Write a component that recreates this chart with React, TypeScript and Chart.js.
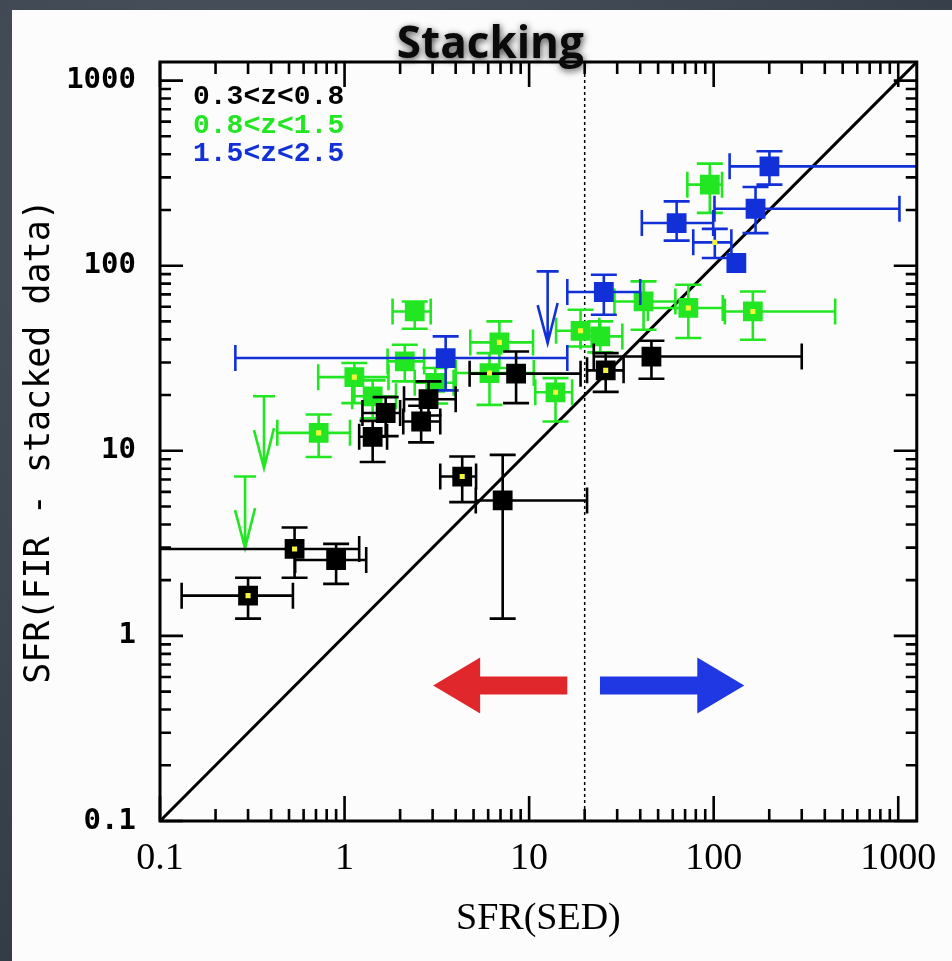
import React, { useEffect, useRef } from 'react';
import { Chart, registerables } from 'chart.js';

Chart.register(...registerables);

// ---------- axes ----------
const axisMin = 0.1;
const axisMax = 1260;
const tickValues = [0.1, 1, 10, 100, 1000];
const tickLabels = ['0.1', '1', '10', '100', '1000'];
const minorMultipliers = [2, 3, 4, 5, 6, 7, 8, 9];
const sedCut = 20;

const chartTitle = 'Stacking';
const xTitle = 'SFR(SED)';
const yTitle = 'SFR(FIR - stacked data)';
const legendLabels = ['0.3<z<0.8', '0.8<z<1.5', '1.5<z<2.5'];

// ---------- 0.3<z<0.8 (black) ----------
const lowzX = [0.30, 0.536, 0.90, 4.34, 7.19, 1.42, 1.67, 2.6, 2.85, 8.5, 26, 46];
const lowzY = [1.65, 2.95, 2.57, 7.26, 5.39, 11.9, 16.0, 14.4, 19.0, 26.1, 27.2, 32.3];
const lowzXlo = [0.131, 0.05, 0.54, 3.30, 5.14, 1.2, 1.25, 2.08, 2.1, 4.76, 20.6, 22.4];
const lowzXhi = [0.525, 1.2, 1.31, 5.16, 20.6, 1.7, 2.0, 3.3, 4.0, 19.0, 32.5, 300];
const lowzYlo = [1.24, 2.06, 1.91, 5.28, 1.24, 8.7, 12.0, 11.1, 15.5, 18.1, 20.8, 24.5];
const lowzYhi = [2.06, 3.85, 3.14, 9.32, 9.5, 14.5, 19.5, 17.5, 23.7, 34.4, 33.7, 39.3];
const lowzMarked = [true, true, false, true, false, false, false, false, false, false, true, false];

// ---------- 0.8<z<1.5 (green) ----------
const midzX = [2.40, 1.13, 0.724, 1.42, 2.12, 3.1, 6.9, 6.1, 13.9, 19.0, 24.3, 41.7, 72.9, 163, 95.3];
const midzY = [56.6, 25.0, 12.5, 19.7, 30.4, 23.3, 38.5, 26.3, 20.7, 44.5, 41.5, 64.1, 59.1, 56.6, 274];
const midzXlo = [1.82, 0.72, 0.432, 1.1, 1.71, 2.4, 4.8, 4.0, 10.8, 14.0, 19.0, 29.0, 44.0, 115, 72];
const midzXhi = [2.93, 1.73, 1.07, 1.9, 2.7, 3.9, 10.5, 10.6, 17.1, 24.0, 32.0, 62.0, 112, 455, 111];
const midzYlo = [45.6, 18.1, 9.25, 15.0, 23.7, 18.0, 28.0, 17.7, 14.4, 36.6, 34.0, 45.1, 40.7, 39.8, 193];
const midzYhi = [64.1, 29.8, 15.7, 24.0, 37.4, 28.0, 50.0, 33.7, 24.7, 57.8, 50.0, 82.3, 78.9, 72.6, 356];
const midzMarked = [false, true, true, false, false, false, true, true, true, true, false, false, true, true, false];
// upper limits (green)
const midzLimX = [0.366, 0.289];
const midzLimY = [19.7, 7.26];
const midzLimTip = [8.06, 2.98];

// ---------- 1.5<z<2.5 (blue) ----------
const highzX = [3.53, 25.4, 63.0, 168.6, 200.5, 132.7];
const highzY = [31.7, 72.1, 170, 203, 344, 103.4];
const highzXlo = [0.256, 16.1, 40.8, 101, 122, null];
const highzXhi = [16.1, 40.0, 99.4, 1015, 2000, null];
const highzYlo = [21.2, 54.3, 136.5, 150, 274, null];
const highzYhi = [41.5, 89.4, 222.6, 266, 415, null];
// blue point drawn only with error bars and centre mark
const highzBareX = [101.4];
const highzBareY = [133.7];
const highzBareXlo = [77.5];
const highzBareXhi = [124.7];
const highzBareYlo = [110];
const highzBareYhi = [158];
// upper limit (blue)
const highzLimX = [12.6];
const highzLimY = [93.2];
const highzLimTip = [38.2];

// ---------- annotation arrows (data coords) ----------
const arrowLevelY = 0.54;
const arrowTailX = [16.1, 24.2];
const arrowTipX = [3.02, 146.5];

// ---------- colours ----------
const BLACK = '#000000';
const GREEN = '#22e622';
const BLUE = '#1230d8';
const YELLOW = '#f4f43c';
const RED_ARROW = '#e0272b';
const BLUE_ARROW = '#1f38e4';

type Pt = { x: number; y: number; xlo?: number | null; xhi?: number | null; ylo?: number | null; yhi?: number | null };

function build(xs: number[], ys: number[], xlo: any[], xhi: any[], ylo: any[], yhi: any[]): Pt[] {
  return xs.map((x, i) => ({ x, y: ys[i], xlo: xlo[i], xhi: xhi[i], ylo: ylo[i], yhi: yhi[i] }));
}
function buildLimits(xs: number[], ys: number[], tips: number[]) {
  return xs.map((x, i) => ({ x, y: ys[i], tip: tips[i] }));
}

const lowzPts = build(lowzX, lowzY, lowzXlo, lowzXhi, lowzYlo, lowzYhi);
const midzPts = build(midzX, midzY, midzXlo, midzXhi, midzYlo, midzYhi);
const highzPts = build(highzX, highzY, highzXlo, highzXhi, highzYlo, highzYhi);
const highzBarePts = build(highzBareX, highzBareY, highzBareXlo, highzBareXhi, highzBareYlo, highzBareYhi);

const markedPts = [
  ...lowzPts.filter((_, i) => lowzMarked[i]),
  ...midzPts.filter((_, i) => midzMarked[i]),
  ...highzBarePts,
].map((p) => ({ x: p.x, y: p.y }));

const CAP = 13;

const errorBarPlugin = {
  id: 'errorBars',
  beforeDatasetDraw(chart: any, args: any) {
    const ds = chart.data.datasets[args.index];
    if (!ds.errorColor) return;
    const { ctx, chartArea: a } = chart;
    const xs = chart.scales.x;
    const ys = chart.scales.y;
    ctx.save();
    ctx.beginPath();
    ctx.rect(a.left, a.top, a.right - a.left, a.bottom - a.top);
    ctx.clip();
    ctx.strokeStyle = ds.errorColor;
    ctx.lineWidth = 2.6;
    ctx.lineCap = 'butt';
    for (const p of ds.data) {
      const px = xs.getPixelForValue(p.x);
      const py = ys.getPixelForValue(p.y);
      if (ds.isLimit) {
        const top = py;
        const tip = ys.getPixelForValue(p.tip);
        ctx.beginPath();
        ctx.moveTo(px - 11, top);
        ctx.lineTo(px + 11, top);
        ctx.moveTo(px, top);
        ctx.lineTo(px, tip);
        ctx.moveTo(px - 10, tip - 38);
        ctx.lineTo(px, tip);
        ctx.lineTo(px + 10, tip - 40);
        ctx.stroke();
        continue;
      }
      ctx.beginPath();
      if (p.xlo != null && p.xhi != null) {
        const a1 = xs.getPixelForValue(p.xlo);
        const b1 = xs.getPixelForValue(p.xhi);
        ctx.moveTo(a1, py);
        ctx.lineTo(b1, py);
        ctx.moveTo(a1, py - CAP);
        ctx.lineTo(a1, py + CAP);
        ctx.moveTo(b1, py - CAP);
        ctx.lineTo(b1, py + CAP);
      }
      if (p.ylo != null && p.yhi != null) {
        const a2 = ys.getPixelForValue(p.ylo);
        const b2 = ys.getPixelForValue(p.yhi);
        ctx.moveTo(px, a2);
        ctx.lineTo(px, b2);
        ctx.moveTo(px - CAP, a2);
        ctx.lineTo(px + CAP, a2);
        ctx.moveTo(px - CAP, b2);
        ctx.lineTo(px + CAP, b2);
      }
      ctx.stroke();
    }
    ctx.restore();
  },
};

const framePlugin = {
  id: 'frameTicks',
  afterDatasetsDraw(chart: any) {
    const { ctx, chartArea: a } = chart;
    const xs = chart.scales.x;
    const ys = chart.scales.y;
    ctx.save();
    ctx.strokeStyle = '#000';
    ctx.lineWidth = 2.6;
    ctx.beginPath();
    for (const d of tickValues) {
      for (const m of [1, ...minorMultipliers]) {
        const v = d * m;
        if (v < axisMin || v > axisMax) continue;
        const major = m === 1;
        const lx = major ? 25 : 12;
        const px = xs.getPixelForValue(v);
        ctx.moveTo(px, a.bottom);
        ctx.lineTo(px, a.bottom - lx);
        ctx.moveTo(px, a.top);
        ctx.lineTo(px, a.top + lx);
        const ly = major ? 23 : 11;
        const py = ys.getPixelForValue(v);
        ctx.moveTo(a.left, py);
        ctx.lineTo(a.left + ly, py);
        ctx.moveTo(a.right, py);
        ctx.lineTo(a.right - ly, py);
      }
    }
    ctx.stroke();
    ctx.lineWidth = 3;
    ctx.strokeRect(a.left, a.top, a.right - a.left, a.bottom - a.top);

    // annotation arrows
    const ay = ys.getPixelForValue(arrowLevelY);
    const colors = [RED_ARROW, BLUE_ARROW];
    arrowTailX.forEach((tx, i) => {
      const tail = xs.getPixelForValue(tx);
      const tip = xs.getPixelForValue(arrowTipX[i]);
      const dir = Math.sign(tip - tail);
      const headLen = 47;
      const base = tip - dir * headLen;
      ctx.fillStyle = colors[i];
      ctx.beginPath();
      ctx.moveTo(tail, ay - 9);
      ctx.lineTo(base, ay - 9);
      ctx.lineTo(base, ay - 28);
      ctx.lineTo(tip, ay);
      ctx.lineTo(base, ay + 28);
      ctx.lineTo(base, ay + 9);
      ctx.lineTo(tail, ay + 9);
      ctx.closePath();
      ctx.fill();
    });

    // legend text
    ctx.font = 'bold 28px "Liberation Mono"';
    ctx.textBaseline = 'middle';
    ctx.textAlign = 'left';
    const lc = [BLACK, GREEN, BLUE];
    legendLabels.forEach((t, i) => {
      ctx.fillStyle = lc[i];
      ctx.fillText(t, a.left + 33, a.top + 35 + i * 28.5);
    });
    ctx.restore();
  },
  afterDraw(chart: any) {
    const { ctx, chartArea: a } = chart;
    ctx.save();
    ctx.font = 'bold 44px "Open Sans"';
    ctx.textAlign = 'center';
    ctx.textBaseline = 'alphabetic';
    ctx.shadowColor = 'rgba(0,0,0,0.75)';
    ctx.shadowBlur = 7;
    ctx.shadowOffsetX = 1;
    ctx.shadowOffsetY = 2;
    ctx.fillStyle = '#0a0a0a';
    ctx.fillText(chartTitle, (a.left + a.right) / 2 - 48, a.top - 4);
    ctx.restore();
  },
};

export default function App() {
  const ref = useRef<HTMLCanvasElement>(null);
  useEffect(() => {
    if (!ref.current) return;
    const chart = new Chart(ref.current, {
      type: 'scatter',
      data: {
        datasets: [
          {
            label: 'marked',
            data: markedPts,
            pointStyle: 'rect',
            pointRadius: 3.6,
            backgroundColor: YELLOW,
            borderWidth: 0,
            order: 0,
          } as any,
          {
            label: legendLabels[0],
            data: lowzPts,
            pointStyle: 'rect',
            pointRadius: 14,
            backgroundColor: BLACK,
            borderWidth: 0,
            errorColor: BLACK,
            order: 1,
          } as any,
          {
            label: 'blue bare',
            data: highzBarePts,
            pointRadius: 0,
            errorColor: BLUE,
            order: 2,
          } as any,
          {
            label: legendLabels[2],
            data: highzPts,
            pointStyle: 'rect',
            pointRadius: 14,
            backgroundColor: BLUE,
            borderWidth: 0,
            errorColor: BLUE,
            order: 3,
          } as any,
          {
            label: 'blue limits',
            data: buildLimits(highzLimX, highzLimY, highzLimTip),
            pointRadius: 0,
            errorColor: BLUE,
            isLimit: true,
            order: 4,
          } as any,
          {
            label: legendLabels[1],
            data: midzPts,
            pointStyle: 'rect',
            pointRadius: 14,
            backgroundColor: GREEN,
            borderWidth: 0,
            errorColor: GREEN,
            order: 5,
          } as any,
          {
            label: 'green limits',
            data: buildLimits(midzLimX, midzLimY, midzLimTip),
            pointRadius: 0,
            errorColor: GREEN,
            isLimit: true,
            order: 6,
          } as any,
          {
            type: 'line',
            label: 'one-to-one',
            data: [
              { x: axisMin, y: axisMin },
              { x: axisMax, y: axisMax },
            ],
            borderColor: BLACK,
            borderWidth: 3,
            pointRadius: 0,
            order: 7,
          } as any,
          {
            type: 'line',
            label: 'SED cut',
            data: [
              { x: sedCut, y: axisMin },
              { x: sedCut, y: axisMax },
            ],
            borderColor: BLACK,
            borderWidth: 1.5,
            borderDash: [3, 3],
            pointRadius: 0,
            order: 8,
          } as any,
        ],
      },
      options: {
        responsive: false,
        animation: false,
        events: [],
        devicePixelRatio: 1,
        layout: { padding: { left: 0, right: 31, top: 62, bottom: 0 } },
        plugins: {
          legend: { display: false },
          tooltip: { enabled: false },
          title: { display: false },
        },
        scales: {
          x: {
            type: 'logarithmic',
            min: axisMin,
            max: axisMax,
            grid: { display: false, drawTicks: false },
            border: { display: false },
            afterBuildTicks: (axis: any) => {
              axis.ticks = tickValues.map((v) => ({ value: v }));
            },
            afterFit: (axis: any) => {
              axis.height = 140;
            },
            ticks: {
              autoSkip: false,
              maxRotation: 0,
              padding: 15,
              color: '#000',
              font: { family: '"Liberation Serif"', size: 38 },
              callback: (_v: any, i: number) => tickLabels[i],
            },
            title: {
              display: true,
              text: xTitle,
              color: '#000',
              font: { family: '"Liberation Serif"', size: 38 },
              padding: { top: 0, bottom: 19 },
            },
          },
          y: {
            type: 'logarithmic',
            min: axisMin,
            max: axisMax,
            grid: { display: false, drawTicks: false },
            border: { display: false },
            afterBuildTicks: (axis: any) => {
              axis.ticks = tickValues.map((v) => ({ value: v }));
            },
            afterFit: (axis: any) => {
              axis.width = 160;
            },
            ticks: {
              autoSkip: false,
              padding: 24,
              color: '#000',
              font: { family: '"DejaVu Sans Mono"', size: 29, weight: 'bold' },
              callback: (_v: any, i: number) => tickLabels[i],
            },
            title: {
              display: true,
              text: yTitle,
              color: '#000',
              font: { family: '"DejaVu Sans Mono"', size: 35 },
              padding: { top: 19, bottom: 0 },
            },
          },
        },
      } as any,
      plugins: [errorBarPlugin, framePlugin],
    });
    return () => chart.destroy();
  }, []);

  return (
    <div
      style={{
        position: 'fixed',
        left: 0,
        top: 0,
        width: 952,
        height: 961,
        overflow: 'hidden',
        background: 'radial-gradient(circle at 30% 20%, #4a535e 0%, #3a434e 55%, #2f3741 100%)',
      }}
    >
      <div style={{ position: 'absolute', left: 12, top: 10, right: 0, bottom: 0, background: '#fcfcfc' }} />
      <canvas
        ref={ref}
        width={952}
        height={961}
        style={{ position: 'absolute', left: 0, top: 0, width: 952, height: 961 }}
      />
    </div>
  );
}
